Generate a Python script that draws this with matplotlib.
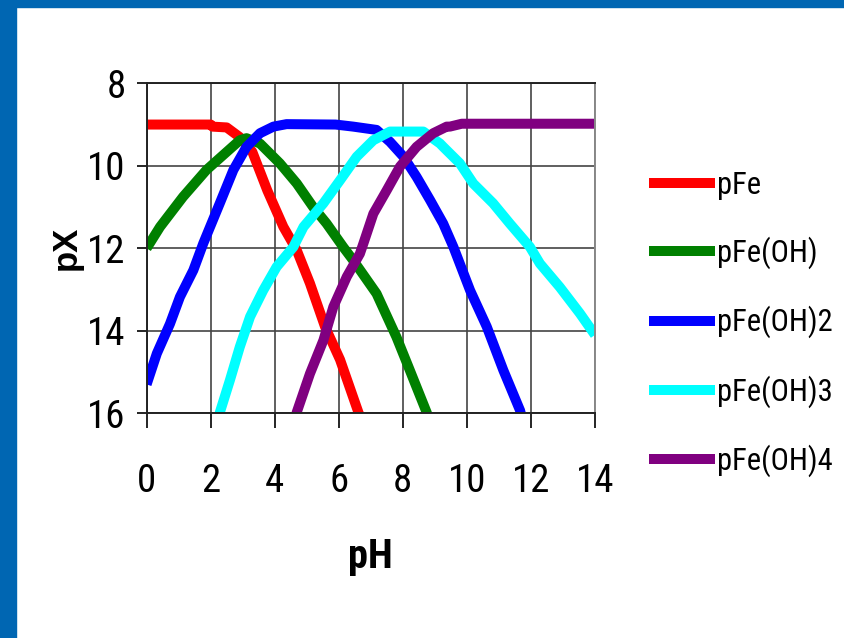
import matplotlib
matplotlib.use("Agg")
import matplotlib.pyplot as plt
from matplotlib.patches import Rectangle
from matplotlib import font_manager
from matplotlib.font_manager import FontProperties

# ---- data ----
ph_fe = [0, 2.0, 2.05, 2.5, 2.9, 3.3, 3.77, 4.27, 4.69, 5.1, 5.57, 6.04, 6.61, 6.65]
px_fe = [9.0, 9.0, 9.05, 9.07, 9.3, 9.66, 10.6, 11.48, 12.05, 12.85, 13.9, 14.7, 15.97, 16.05]

ph_feoh = [0, 0.42, 1.14, 1.87, 2.39, 2.91, 3.12, 3.54, 4.16, 4.69, 5.2, 5.62, 6.14, 6.45, 7.18, 7.8, 8.22, 8.74, 8.8]
px_feoh = [12.0, 11.48, 10.75, 10.1, 9.74, 9.38, 9.33, 9.46, 9.94, 10.43, 11.0, 11.4, 11.97, 12.29, 13.1, 14.15, 14.96, 15.97, 16.1]

ph_feoh2 = [0, 0.32, 0.73, 1.04, 1.46, 1.77, 2.29, 2.71, 3.12, 3.54, 3.96, 4.37, 5.9, 6.45, 7.18, 7.6, 8.02, 8.43, 8.85, 9.26, 9.58, 10.1, 10.62, 11.14, 11.66, 11.7]
px_feoh2 = [15.3, 14.55, 13.83, 13.18, 12.53, 11.88, 10.9, 10.1, 9.54, 9.21, 9.05, 8.99, 9.0, 9.05, 9.13, 9.42, 9.78, 10.27, 10.83, 11.4, 11.97, 13.02, 13.9, 14.96, 15.93, 16.05]

ph_feoh3 = [2.25, 2.29, 2.6, 2.91, 3.23, 3.64, 4.06, 4.58, 4.9, 5.52, 6.04, 6.56, 7.08, 7.6, 8.64, 9.16, 9.26, 9.78, 10.2, 10.82, 11.34, 11.97, 12.28, 12.9, 13.53, 14.0]
px_feoh3 = [16.1, 15.97, 15.2, 14.39, 13.66, 13.02, 12.45, 11.97, 11.48, 10.91, 10.35, 9.78, 9.38, 9.17, 9.17, 9.46, 9.54, 9.94, 10.43, 10.91, 11.4, 11.97, 12.37, 12.94, 13.58, 14.1]

ph_feoh4 = [4.65, 4.69, 5.1, 5.52, 5.83, 6.25, 6.66, 6.77, 7.08, 7.5, 7.91, 8.43, 8.95, 9.37, 9.47, 9.84, 14.0]
px_feoh4 = [16.1, 15.97, 15.04, 14.23, 13.42, 12.69, 12.13, 11.88, 11.16, 10.59, 10.02, 9.54, 9.21, 9.05, 9.05, 8.98, 8.98]

series_labels = ["pFe", "pFe(OH)", "pFe(OH)2", "pFe(OH)3", "pFe(OH)4"]
series_colors = ["#FF0000", "#008000", "#0000FF", "#00FFFF", "#800080"]
x_ticks = [0, 2, 4, 6, 8, 10, 12, 14]
y_ticks = [8, 10, 12, 14, 16]

# ---- fonts: look for a narrow / condensed sans face ----
def find_narrow(bold):
    prefs = ["Liberation Sans Narrow", "Roboto Condensed", "Open Sans Condensed",
             "Noto Sans", "DejaVu Sans", "Roboto", "Open Sans", "Inter", "Lato"]
    found = []
    for f in font_manager.fontManager.ttflist:
        fn = f.fname.lower()
        if ("narrow" in fn or "condensed" in fn) and "semi" not in fn and "extra" not in fn \
                and "ultra" not in fn and f.style == "normal":
            w = f.weight if isinstance(f.weight, int) else (700 if "bold" in str(f.weight) else 400)
            if bold and w < 600:
                continue
            if not bold and w >= 500:
                continue
            rank = len(prefs)
            for i, p in enumerate(prefs):
                if f.name.startswith(p):
                    rank = i
                    break
            found.append((rank, f.fname))
    if found:
        found.sort()
        return found[0][1]
    return None

reg_path = find_narrow(False)
bold_path = find_narrow(True)
condensed = reg_path is not None

def fp(size, bold=False):
    path = bold_path if bold else reg_path
    if path is not None:
        return FontProperties(fname=path, size=size)
    return FontProperties(family=["Liberation Sans", "DejaVu Sans"], size=size,
                          weight="bold" if bold else "normal")

tick_size = 28 if condensed else 22
leg_size = 22 if condensed else 17.5
xl_size = 29 if condensed else 23

fig = plt.figure(figsize=(8.45, 6.38), dpi=100)
fig.patch.set_facecolor("white")

# blue frame strips
frame_col = "#0066B2"
fig.patches.append(Rectangle((0, 0), 16 / 845, 1, transform=fig.transFigure, color=frame_col, zorder=0))
fig.patches.append(Rectangle((0, 1 - 7 / 638), 1, 7 / 638, transform=fig.transFigure, color=frame_col, zorder=0))

ax = fig.add_axes([146.6 / 845, 1 - 413.3 / 638, (595 - 146.6) / 845, (413.3 - 83.3) / 638])

xs = [ph_fe, ph_feoh, ph_feoh2, ph_feoh3, ph_feoh4]
ys = [px_fe, px_feoh, px_feoh2, px_feoh3, px_feoh4]
for x, y, lab, col in zip(xs, ys, series_labels, series_colors):
    ax.plot(x, y, color=col, lw=7.2, label=lab, solid_capstyle="butt", solid_joinstyle="round")

ax.set_xlim(0, 14)
ax.set_ylim(16, 8)
ax.set_xticks(x_ticks)
ax.set_yticks(y_ticks)
ax.set_xticklabels([str(t) for t in x_ticks], fontproperties=fp(tick_size))
ax.set_yticklabels([str(t) for t in y_ticks], fontproperties=fp(tick_size))
ax.tick_params(axis="x", direction="out", length=11, width=1.2, pad=25, colors="black")
ax.tick_params(axis="y", direction="out", length=7, width=1.2, pad=8, colors="black")
ax.grid(True, color="#444444", lw=1.2)
ax.set_axisbelow(True)
for s in ax.spines.values():
    s.set_color("#222222")
    s.set_linewidth(1.4)
ax.spines["right"].set_color("#888888")

ax.set_xlabel("pH", fontproperties=fp(xl_size, bold=True), labelpad=27)
ax.set_ylabel("pX", fontproperties=FontProperties(family=["Liberation Sans", "DejaVu Sans"], size=25, weight="bold"),
              labelpad=3)

leg_px = leg_size * 100 / 72
leg = fig.legend(loc="upper left", bbox_to_anchor=(649 / 845, 1 - 171 / 638), frameon=False,
                 prop=fp(leg_size), handlelength=66 / leg_px, handletextpad=0.05,
                 labelspacing=1.2, borderpad=0, borderaxespad=0)

fig.savefig("out.png", dpi=100, facecolor="white")
